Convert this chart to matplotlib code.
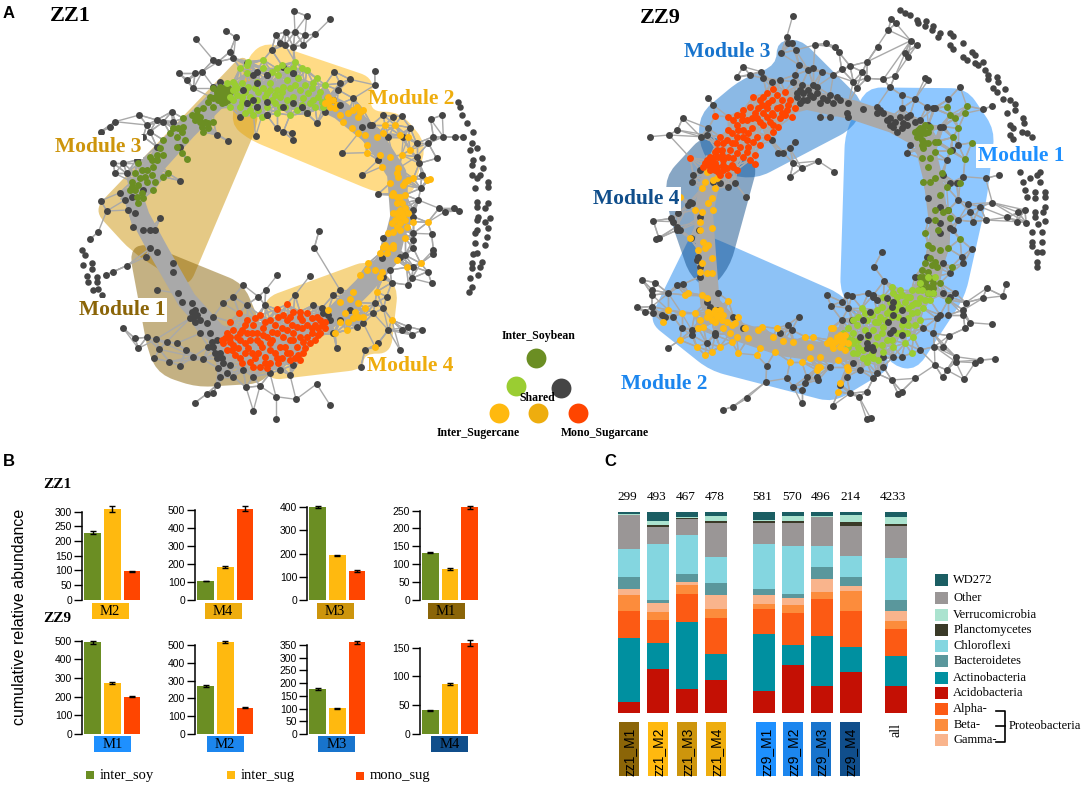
import numpy as np
import matplotlib
matplotlib.use("Agg")
import matplotlib.pyplot as plt
from matplotlib.collections import LineCollection
from matplotlib.patches import PathPatch, Rectangle
from matplotlib.path import Path

plt.rcParams['font.family'] = ['Liberation Serif', 'DejaVu Serif']

W, H = 1084, 787

GRAY = '#454545'
SOY = '#6B8E23'
LIME = '#9ACD32'
SUG = '#FFB90F'
SHARED = '#EEAD0E'
RED = '#FF4500'
EDGE = '#A9A9A9'

# module colours
M_YEL = ['#8B6508', '#FFB90F', '#CD950C', '#EEAD0E']   # M1..M4 of ZZ1
M_BLU = ['#1E90FF', '#1C86EE', '#1874CD', '#104E8B']   # M1..M4 of ZZ9

# ---- network nodes (3x pixel units) ----
zz1_gray = [(882,33),(920,48),(990,58),(857,95),(885,95),(915,105),(945,103),(827,105),(678,92),(707,112),(588,118),(640,180),(655,185),(690,155),(815,150),(840,130),(855,135),(880,140),(910,135),(1124,213),(1125,255),(1003,215),(1050,238),(1020,250),(537,220),(562,240),(585,220),(607,215),(580,265),(1327,345),(1292,358),(1230,383),(1300,410),(1330,410),(1365,412),(1390,410),(1285,430),(1250,430),(1310,475),(1258,490),(1265,525),(1262,565),(1240,630),(1317,625),(1362,625),(1378,633),(1335,635),(1295,702),(1240,720),(1240,745),(1300,750),(1300,762),(1283,815),(1240,800),(1295,850),(1225,855),(1235,835),(1175,848),(1160,890),(1150,925),(1265,990),(1225,980),(1205,990),(1235,1005),(1165,990),(1135,1030),(1200,1050),(1082,1102),(1095,1050),(1010,1045),(990,1215),(950,1152),(888,1198),(828,1190),(828,1258),(760,1232),(780,1158),(738,1162),(640,1180),(620,1182),(585,1208),(650,1155),(540,1097),(508,1085),(463,1075),(415,1045),(405,1015),(370,985),(440,1012),(468,1018),(500,1025),(530,1030),(478,1048),(558,1050),(580,1070),(610,1078),(470,870),(520,790),(437,770),(380,797),(340,815),(318,825),(270,718),(295,695),(320,633),(303,602),(360,578),(340,490),(345,365),(330,382),(302,395),(418,345),(440,375),(470,360),(957,693),(943,743),(930,827),(885,885),(832,825),(797,870),(730,855),(1027,460),(1087,525),(1133,583),(952,370),(880,420),(767,408),(683,422),(650,405),(540,542),(480,655),
    (380,520),(395,590),(385,630),(400,680),(430,690),(450,690),(465,690),(450,745),(470,755),(520,815),(535,880),(545,905),(575,910),(585,930),(610,930),(580,955),(620,970),(640,950),(600,1000),(650,1020),(640,1040),(660,1060),(670,1090),(655,1105),(690,1095),(700,1130),(660,1130),(730,1110),(760,1130),(810,1120),(870,1125),(840,1110),(880,1095),(700,890),(670,910),(740,915),(775,890),(795,915),(940,915),(970,940),(990,960),(1000,1000),(1020,960),(1050,930),(1070,980),(1090,970),(1120,940),(1125,910),(1020,870),(1000,885),(1150,830),(1170,810),(1200,770),(1215,765),(1240,700),(1145,775),(1150,715),(1240,650),(1255,600),
    (640,260),(660,245),(700,175),(740,190),(770,215),(800,225),(850,200),(880,220),(720,350),(740,310),(770,320),(800,345),(830,385),(850,395),(875,400),(905,320),(920,340),(975,335),(1000,300),(1015,270),(1060,295),(1085,380),(1115,375),(1150,345),(1180,350),(1205,348),(1135,480),(1165,410),(1210,410),(1250,470),
    (515,335),(490,365),(450,395),(430,410),(470,440),(520,365),(540,440),(430,570),(410,480),(370,490),(345,520),(375,600),(405,640),(570,955),(585,965),(630,1000),(635,1025),(650,1075),(680,1120),(575,935),(590,945),(600,960),(625,1040),(645,1060),(665,1075),(965,925),(985,945)]
zz1_over = [(770,320),(740,310),(800,345),(905,320),(920,340),(760,225),(800,225),(880,220),(850,320),(770,250),(800,305),(760,300),(880,310),(730,270),(1020,315),(1110,375)]
zz1_soy = [(640,265),(655,270),(670,280),(680,290),(665,295),(650,285),(690,275),(675,305),(640,295),(625,305),(640,320),(610,325),(590,330),(575,345),(585,360),(600,350),(615,365),(625,385),(610,395),(640,365),(550,355),(520,385),(550,380),(510,400),(530,410),(555,420),(490,420),(480,445),(530,440),(545,458),(470,465),(490,465),(450,470),(415,490),(440,510),(460,500),(505,520),(490,530),(465,545),(435,530),(405,520),(395,545),(415,555),(390,570),(410,590),(430,595),(415,610),(460,570),(455,480),(560,478),(660,280),(680,275),
    (660,260),(650,275),(670,265),(685,265),(665,310),(685,300),(655,300),(630,290),(600,365),(590,345),(605,380),(625,370),(545,395),(535,385),(470,480),(425,510),(420,535),(395,560),(405,570),(425,580),(440,545),(455,525)]
zz1_lime = [(720,205),(745,185),(790,180),(830,205),(860,210),(885,185),(920,210),(700,245),(680,250),(710,265),(725,290),(700,300),(690,320),(740,220),(770,245),(790,265),(810,270),(830,270),(850,260),(835,225),(860,240),(895,235),(940,250),(975,255),(960,275),(925,280),(900,270),(880,290),(860,300),(840,290),(815,300),(795,290),(770,300),(750,310),(735,340),(760,345),(785,350),(870,345),(830,340),(910,295),(945,320),(980,295),(970,320),(920,340),(745,260),(765,265),(720,320),(840,320),(890,330),(810,250),(940,300),
    (705,255),(725,250),(735,275),(750,290),(775,275),(800,280),(825,285),(845,275),(870,265),(885,255),(915,255),(935,265),(955,290),(930,310),(905,315),(880,310),(855,320),(825,310),(800,320),(775,330),(750,330),(725,305),(710,285),(740,195),(790,205),(815,215),(845,195),(880,205),(905,205),(950,235),(965,305),(700,270),(690,290)]
zz1_sug = [(985,290),(1000,300),(990,320),(1010,315),(975,310),(1020,345),(1030,365),(1045,340),(1070,320),(1090,330),(1075,350),(1055,385),(1075,400),(1095,405),(1100,435),(1130,410),(1155,375),(1150,400),(1185,375),(1200,405),(1225,410),(1100,458),(1140,465),(1170,470),(1205,465),(1145,500),(1195,505),(1230,450),(1195,530),(1225,540),(1240,535),(1170,550),(1210,555),(1290,538),(1280,540),(1175,585),(1200,590),(1215,585),(1205,610),(1215,625),(1190,640),(1210,650),(1225,640),(1185,660),(1200,670),(1220,680),(1180,695),(1200,690),(1240,665),(1283,667),(1165,700),(1215,715),(1150,740),(1165,745),(1140,760),(1180,745),(1160,760),(1190,780),(1105,790),(1100,810),(1125,810),(1080,825),(1140,830),(1145,815),(1220,802),(1262,790),
    (1130,875),(1060,875),(1075,908),(1050,898),(1020,905),(985,930),(1035,938),(1065,935),(1075,950),(1095,925),(1175,960),(1020,965),(1045,965),(1040,990),(1005,1000),(1125,1040),(1090,950),(1060,955),
    (1190,610),(1200,630),(1195,650),(1215,660),(1180,640),(1205,640),(1175,670),(1190,680),(990,300),(1005,325),(985,305),(1060,330),(1080,335),(1190,520),(1215,545),(1180,580),(1190,590),(1155,735),(1180,735)]
zz1_red = [(860,913),(830,928),(718,940),(690,965),(740,960),(780,945),(810,960),(850,945),(880,935),(920,940),(950,950),(975,965),(975,985),(955,1005),(930,1030),(910,1060),(900,1080),(870,1060),(845,1075),(810,1090),(780,1100),(750,1085),(720,1075),(695,1050),(670,1030),(680,1000),(710,1010),(740,1000),(770,1020),(800,1010),(830,1000),(860,990),(890,980),(920,975),(900,1010),(870,1020),(840,1040),(810,1050),(775,1060),(745,1045),(715,1045),(760,975),(790,985),(825,975),(860,960),(900,950),(935,1000),(700,990),(735,1030),(785,1040),(890,1040),(920,1010),(665,1020),(690,1025),(755,1060),(830,1075),(880,1000),(945,975),(960,960),(770,1000),(810,1030),(905,960),(855,1040),(795,1070),(720,1020),(945,1020),
    (735,975),(765,955),(795,965),(835,950),(870,950),(900,935),(935,955),(965,975),(725,990),(755,1000),(790,1005),(815,995),(845,985),(875,975),(905,985),(935,985),(960,1000),(690,1010),(720,1000),(750,1020),(780,1030),(815,1020),(850,1010),(880,1020),(910,1025),(680,1050),(705,1065),(735,1060),(765,1075),(795,1090),(825,1060),(860,1060),(885,1075),(915,1045),(700,1035),(725,1090),(760,1100),(800,1105),(835,1090),(870,1080),(895,1065),(675,1015),(955,985)]
zz1_lone = [(1375,305),(1380,320),(1385,345),(1400,368),(1420,395),(1415,430),(1430,445),(1410,450),(1445,475),(1420,480),(1415,495),(1450,505),(1440,525),(1415,525),(1430,535),(1465,545),(1465,560),(1425,565),(1430,605),(1430,620),(1465,610),(1455,625),(1435,650),(1430,660),(1470,655),(1455,665),(1430,690),(1425,700),(1465,685),(1460,710),(1425,730),(1430,760),(1420,762),(1455,735),(1445,785),(1440,800),(1415,790),(1415,805),(1435,825),(1410,835),(1415,860),(1408,875),
    (245,750),(255,765),(250,795),(275,790),(275,808),(262,828),(265,845),(290,830),(290,845),(280,870),(295,868),(305,885)]
zz1_ring = [(400,590),(470,490),(560,390),(650,300),(760,270),(900,270),(1020,330),(1120,410),(1190,520),(1200,650),(1170,770),(1090,860),(1000,950),(900,1000),(760,1040),(650,1000),(560,900),(480,760),(420,650),(400,590)]

zz9_gray = [(578,48),(560,112),(565,130),(575,130),(587,150),(543,160),(645,135),(678,130),(706,140),(717,157),(833,140),(865,90),(873,58),(888,70),(802,185),(787,215),(885,228),(932,122),(950,135),(915,160),(925,170),(975,235),(985,240),(1080,260),(1045,298),(1150,328),(1175,318),(1197,525),(1157,535),(1177,608),(1140,620),(1105,612),(1110,635),(1158,660),(1222,652),(1255,637),(1275,630),(1250,665),(1278,668),(1118,665),(1115,747),(1085,770),(1090,530),(1070,550),(1075,435),(1075,660),(1050,685),
    (1218,853),(1160,865),(1065,878),(1208,888),(1148,895),(1097,908),(1090,930),(1090,945),(1045,945),(1110,968),(1177,973),(1095,985),(1047,1007),(1185,1077),(1140,1080),(1125,1088),(1067,1070),(1067,1085),(1030,1042),(1003,1040),(1040,1110),(1092,1138),(1028,1132),(945,1135),(960,1050),(1005,1095),
    (905,1175),(895,1183),(875,1140),(800,1175),(800,1258),(812,1255),(777,1190),(750,1180),(698,1217),(605,1210),(498,1145),(500,1097),(440,1195),(398,1220),(368,1230),(560,1135),(605,1170),(580,1160),(620,1130),(597,950),(540,1000),(575,990),(563,975),
    (203,1045),(245,985),(275,990),(275,1005),(345,1005),(320,1030),(110,922),(135,937),(155,920),(158,940),(185,945),(205,880),(157,870),(157,885),(127,840),(165,848),(230,855),(250,852),(195,950),(220,950),
    (845,757),(822,800),(853,842),(680,885),(693,917),(725,905),(740,885),(755,888),(805,880),(820,885),
    (177,715),(168,718),(160,663),(240,690),(230,680),(272,713),(298,690),(213,655),(275,610),(265,615),(218,665),(232,690),
    (150,410),(207,405),(232,390),(248,355),(325,295),(340,315),(302,410),(320,405),(325,385),(275,545),(280,525),(300,510),(340,545),(360,550),(385,560),(405,548),(437,590),
    (703,515),(655,483),(570,530),(580,490),(605,505),(535,458),(550,458),(570,445),(585,425),(515,420),
    (410,232),(450,225),(483,215),(490,235),(515,245),(540,240),(430,200),(578,245),(585,225),(597,195),(625,210),(640,205),(665,215),(700,225),(725,208),(750,198),(760,245),(770,265),(800,235),(850,238),(870,262),(905,285),(945,298),(1005,325),
    (590,290),(610,280),(625,270),(640,255),(605,255),(650,280),(620,300),(600,310),(660,310),(690,285),(700,310),(720,300),(745,310),(790,327),(740,340),(745,350),(690,350),(660,350),(830,320),(850,340),(870,355),(830,340),(880,380),(890,395),(910,370),(930,345),(960,360),(985,375),(905,325),(920,350),(1020,380),(1000,325),(980,320),(1030,380),(920,460),(930,435),(1040,480),(1055,450),
    (590,280),(600,270),(630,285),(640,290),(680,300),(710,290),(610,300),(650,260),(670,295),(870,375),(885,365),(905,385),(920,375),(945,365),(900,350),(860,360),(840,330),
    (1030,525),(1050,550),(985,595),(1020,620),(1045,630),(1075,600),(1020,670),(1060,690),(985,660),(1020,700),(980,770),(1030,790),(1090,790),(1050,820),(945,830),(1030,880),(1050,890),(1020,945),(1010,955),(970,985),(1000,1000),
    (850,1070),(880,1070),(905,1070),(850,1100),(830,1120),(820,1135),(780,1110),(760,1090),(740,1130),(720,1155),(690,1100),(650,1130),(655,1140),(615,1150),(755,960),(725,960),(745,925),
    (320,905),(330,920),(350,930),(300,830),(295,770),(300,800),(290,780),(345,1000),(355,880),(400,950),(430,985),(300,650),(270,605),(235,640)]
zz9_over = [(880,905),(905,930),(820,890),(830,900),(860,895),(790,960),(810,935),(780,1010),(800,1030),(820,1050),(880,990),(905,1005),(865,965),(910,960),(800,1045),(815,1040),(880,945),(870,1000),(805,1005),(875,920)]
zz9_sug = [(340,540),(350,535),(320,515),(315,545),(305,565),(345,565),(335,595),(325,610),(285,630),(305,635),(340,630),(300,665),(335,685),(300,690),(270,715),(310,725),(325,735),(315,745),(295,750),(335,775),(305,790),(320,820),(335,820),(300,815),(240,592),
    (265,878),(255,885),(305,885),(320,895),(385,902),(205,930),(245,940),(285,940),(190,965),(300,960),(295,985),(310,980),(325,935),(340,940),(350,950),(360,930),(370,945),(345,965),(380,965),(405,970),(415,950),(395,975),(435,985),(370,985),(390,1000),(395,1025),(410,1010),(240,1020),(290,1040),(335,1055),(315,1065),(360,1040),(415,1060),(445,1015),(470,1065),(480,1045),(487,980),(475,990),(530,985),(520,1010),(550,1022),(580,1025),(615,1010),(640,1012),(525,1055),(630,1040),(605,1085),(630,1075),(660,1070),(570,1085),(660,1100),(650,1110),(720,1150),(715,1175),
    (690,1020),(710,1010),(730,1020),(745,1030),(720,1040),(700,1045),(680,1030),(735,1050),(720,1005),(700,985),(692,985),(740,1100),(745,1110),(715,1080),(655,1100),
    (330,945),(345,930),(355,945),(335,960),(365,960),(320,950),(705,1025),(725,1030),(715,1020),(695,1035),(735,1005)]
zz9_lime = [(875,860),(900,870),(935,870),(960,895),(970,925),(850,890),(830,930),(785,925),(760,960),(800,960),(840,950),(870,930),(890,890),(920,890),(945,910),(900,920),(935,940),(960,960),(920,1000),(940,1010),(880,1040),(860,1020),(830,1010),(850,980),(820,990),(795,990),(760,1000),(730,1000),(745,1040),(770,1060),(800,1085),(835,1080),(815,1060),(935,1060),(960,850),(1000,880),(985,830),(1005,830),(975,900),(905,975),(875,950),(825,965),(770,975),(745,985),(760,1030),(790,1050),(915,1030),(890,1000),(955,870),(850,1055),
    (880,880),(905,885),(930,890),(955,910),(915,905),(890,910),(870,905),(935,915),(950,935),(925,925),(845,920),(860,940),(815,945),(835,965),(855,960),(885,930),(895,950),(925,955),(945,975),(925,975),(905,995),(875,1020),(845,1000),(845,1035),(825,1035),(805,1010),(775,1020),(755,1020),(740,1010),(725,1030),(775,1040),(805,1070),(790,1075),(760,1060),(820,1075),(795,940),(775,950),(965,870),(985,880),(990,900)]
zz9_soy = [(945,395),(960,385),(975,375),(990,380),(950,410),(975,400),(965,420),(985,430),(1005,425),(1015,425),(970,445),(1005,455),(1040,320),(1100,318),(1050,345),(1065,355),(1095,340),(1075,385),(1058,412),(1115,428),(1095,478),(1050,452),(965,475),(990,475),(985,500),(1025,520),(1005,535),(970,545),(990,545),(1040,560),(1080,550),(1020,585),(1005,630),(1030,635),(1045,630),(1050,655),(1005,660),(1015,690),(975,700),(1080,717),(985,735),(995,745),(1020,750),(1045,745),(990,775),(1005,785),(965,810),(1055,800),(960,850),(985,860),(1000,850),(1020,850),(1000,880),(1045,900),(970,830),(1010,800),
    (955,390),(970,390),(985,395),(960,405),(965,435),(975,430),(960,830),(975,845),(990,835),(1000,865),(985,880),(965,865),(975,790),(995,795),(985,815)]
zz9_red = [(520,268),(555,275),(500,280),(460,290),(480,300),(515,300),(545,300),(570,300),(585,325),(450,320),(475,325),(500,325),(530,325),(560,330),(575,350),(430,330),(410,345),(385,350),(345,348),(440,360),(470,355),(500,350),(540,355),(520,375),(490,375),(410,375),(430,390),(455,385),(385,390),(360,410),(350,430),(380,420),(410,410),(440,420),(470,410),(500,410),(520,395),(365,450),(345,455),(390,450),(420,440),(445,440),(480,435),(270,473),(320,480),(340,475),(370,480),(400,475),(430,470),(465,465),(310,500),(330,510),(350,500),(380,505),(410,510),(360,525),(385,525),(465,492),(450,480),(335,490),(355,515),(535,380),(555,345),(520,345),(395,430),(425,360),
    (490,290),(530,285),(505,310),(540,320),(565,315),(485,315),(465,340),(490,340),(515,340),(545,340),(455,355),(480,365),(510,365),(425,345),(400,360),(415,390),(445,400),(395,400),(370,430),(405,430),(430,410),(460,425),(350,450),(330,470),(325,495),(345,490),(365,465),(385,470),(410,460),(440,455),(315,490),(370,495),(395,495),(345,510),(370,510),(400,500),(335,500),(355,470)]
zz9_lone = [(900,30),(915,38),(930,45),(950,60),(955,70),(978,62),(975,78),(1000,78),(995,90),(1020,100),(1015,112),(1050,100),(1060,108),(1090,130),(1050,135),(1060,148),(1115,155),(1125,165),(1090,170),(1100,180),(1150,185),(1135,195),(1125,190),(1155,210),(1165,225),(1165,238),(1190,232),(1195,245),(1180,265),(1190,275),(1215,268),(1210,298),(1230,300),(1245,312),(1245,330),(1220,340),(1270,355),(1272,370),(1230,375),(1240,385),(1265,395),(1280,400),(1295,410),(1230,405),(1240,418),
    (1260,515),(1320,515),(1310,525),(1290,535),(1268,545),(1320,545),(1275,570),(1280,590),(1305,575),(1335,575),(1335,590),(1305,595),(1335,620),(1330,635),(1305,635),(1305,650),(1335,662),(1315,672),(1295,695),(1325,695),(1295,725),(1295,738),(1325,725),(1310,755),(1325,755),(1310,785),(1310,800)]
zz9_ring = [(340,500),(420,400),(500,330),(620,300),(760,330),(880,370),(970,420),(1000,540),(1020,700),(990,850),(900,960),(800,1040),(700,1060),(550,1040),(400,990),(330,910),(320,780),(310,640),(340,500)]

# hull outlines of the modules, same units
zz1_hulls = [
    ('M2', [(745,165),(800,125),(1125,235),(1105,335),(1200,335),(1280,430),(1235,595),(1130,578),(745,418),(690,370)], M_YEL[1]),
    ('M3', [(735,155),(280,630),(395,755),(565,865),(775,370),(770,250)], M_YEL[2]),
    ('M1', [(388,755),(430,728),(730,850),(830,1085),(790,1150),(590,1162),(480,1125),(445,1060)], M_YEL[0]),
    ('M4', [(1110,778),(1195,860),(1172,1062),(1092,1060),(1090,1108),(800,1142),(790,895)], M_YEL[3]),
]
zz9_hulls = [
    ('M1', [(800,262),(1100,265),(1185,390),(1160,600),(1095,890),(950,1110),(880,1100),(720,880),(735,400)], M_BLU[0]),
    ('M2', [(360,722),(730,885),(880,1100),(700,1208),(330,1112),(145,965),(280,690)], M_BLU[1]),
    ('M3', [(600,115),(795,310),(760,385),(470,537),(345,520),(295,430),(300,340),(420,240),(530,195),(530,125)], M_BLU[2]),
    ('M4', [(310,405),(195,530),(205,640),(270,830),(330,870),(390,800),(475,490),(370,420)], M_BLU[3]),
]

# ---- panel B ----
bar_colors = ['#6B8E23', '#FFB90F', '#FF4500']
zz1_mods = ['M2', 'M4', 'M3', 'M1']
zz1_vals = [[228, 310, 97], [105, 183, 510], [401, 192, 124], [132, 85, 259]]
zz1_errs = [[5, 10, 2], [2, 3, 12], [4, 3, 3], [2, 3, 3]]
zz1_ticks = [[0, 50, 100, 150, 200, 250, 300], [0, 100, 200, 300, 400, 500], [0, 100, 200, 300, 400], [0, 50, 100, 150, 200, 250]]
zz9_mods = ['M1', 'M2', 'M3', 'M4']
zz9_vals = [[492, 272, 200], [268, 517, 147], [176, 101, 360], [41, 87, 158]]
zz9_errs = [[8, 5, 3], [5, 8, 3], [3, 2, 7], [1.5, 1.5, 5]]
zz9_ticks = [[0, 100, 200, 300, 400, 500], [0, 100, 200, 300, 400, 500], [0, 50, 100, 150, 200, 250, 300, 350], [0, 50, 100, 150]]

# ---- panel C ----
taxa = ['Acidobacteria', 'Actinobacteria', 'Alpha-', 'Beta-', 'Gamma-', 'Bacteroidetes', 'Chloroflexi', 'Other', 'Planctomycetes', 'Verrucomicrobia', 'WD272']
taxa_colors = ['#C41004', '#0090A0', '#FC5A14', '#FC8C3C', '#F9B48C', '#5A979C', '#84D6E0', '#9A9696', '#3A3A28', '#ABE3CF', '#1B5E63']
stack_counts = ['299', '493', '467', '478', '581', '570', '496', '214', '4233']
stack_names = ['zz1_M1', 'zz1_M2', 'zz1_M3', 'zz1_M4', 'zz9_M1', 'zz9_M2', 'zz9_M3', 'zz9_M4', 'all']
stack_vals = [
    [35, 191, 82, 46, 18, 37, 84, 101, 2, 3, 5],
    [134, 76, 69, 25, 26, 11, 166, 52, 7, 10, 28],
    [73, 202, 83, 27, 10, 24, 116, 48, 3, 3, 15],
    [100, 79, 108, 26, 41, 37, 77, 104, 6, 13, 13],
    [67, 171, 74, 17, 25, 19, 134, 64, 7, 2, 24],
    [144, 60, 96, 24, 22, 11, 146, 69, 5, 15, 12],
    [82, 150, 112, 21, 39, 36, 63, 85, 2, 2, 12],
    [125, 75, 107, 61, 14, 26, 65, 89, 12, 22, 8],
    [82, 89, 81, 24, 31, 34, 126, 94, 7, 22, 14],
]


def rounded_hull(pts, r=45):
    # polygon with its corners cut by quadratic curves
    pts = np.array(pts, float)
    n = len(pts)
    verts, codes = [], []
    for i in range(n):
        p, c, q = pts[i - 1], pts[i], pts[(i + 1) % n]
        r1 = min(r, np.linalg.norm(p - c) / 2)
        r2 = min(r, np.linalg.norm(q - c) / 2)
        a = c + (p - c) / np.linalg.norm(p - c) * r1
        b = c + (q - c) / np.linalg.norm(q - c) * r2
        verts += [a, c, b]
        codes += [Path.MOVETO if i == 0 else Path.LINETO, Path.CURVE3, Path.CURVE3]
    verts.append(verts[0])
    codes.append(Path.CLOSEPOLY)
    return Path(verts, codes)


def make_edges(xy, radius=55, reach=170):
    # close pairs are linked, the rest hang off nearby denser nodes
    d = np.sqrt(((xy[:, None, :] - xy[None, :, :]) ** 2).sum(axis=2))
    np.fill_diagonal(d, 1e9)
    density = (d < 80).sum(axis=1)
    segs = []
    for i in range(len(xy)):
        near = set(np.where(d[i] < radius)[0])
        denser = np.where((density > density[i]) & (d[i] < reach))[0]
        if len(denser):
            near |= set(denser[np.argsort(d[i][denser])[:1 if density[i] < 3 else 2]])
        else:
            near.add(int(np.argmin(d[i])))
        for j in near:
            segs.append([xy[i], xy[j]])
    return segs


def draw_network(ax, x0, hulls, ring, groups, over, lone):
    to_px = lambda pts: np.array(pts, float) / 3 + [x0, 0]
    for name, outline, col in hulls:
        p = rounded_hull(outline)
        p = Path(p.vertices / 3 + [x0, 0], p.codes)
        ax.add_patch(PathPatch(p, fc=col, ec='none', alpha=0.5, zorder=1))
    r = to_px(ring)
    ax.plot(r[:, 0], r[:, 1], color=EDGE, lw=14, zorder=2, solid_joinstyle='round')
    all_nodes = np.vstack([np.array(g, float) for g, c in groups])
    segs = [np.array(s) / 3 + [x0, 0] for s in make_edges(all_nodes)]
    ax.add_collection(LineCollection(segs, colors=EDGE, linewidths=1.0, zorder=2))
    ln = to_px(lone)
    ax.scatter(ln[:, 0], ln[:, 1], s=22, c=GRAY, lw=0, zorder=3)
    for g, c in groups:
        xy = to_px(g)
        ax.scatter(xy[:, 0], xy[:, 1], s=25, c=c, lw=0, zorder=3)
    xy = to_px(over)
    ax.scatter(xy[:, 0], xy[:, 1], s=25, c=GRAY, lw=0, zorder=3)


def px_axes(fig, left, top, right, bottom):
    return fig.add_axes([left / W, 1 - bottom / H, (right - left) / W, (bottom - top) / H])


fig = plt.figure(figsize=(W / 100, H / 100), dpi=100)
bg = fig.add_axes([0, 0, 1, 1])
bg.set_xlim(0, W)
bg.set_ylim(H, 0)
bg.axis('off')

# ---- panel A ----
draw_network(bg, 0, zz1_hulls, zz1_ring, [(zz1_gray, GRAY), (zz1_soy, SOY), (zz1_lime, LIME), (zz1_sug, SUG), (zz1_red, RED)], zz1_over, zz1_lone)
draw_network(bg, 600, zz9_hulls, zz9_ring, [(zz9_gray, GRAY), (zz9_soy, SOY), (zz9_lime, LIME), (zz9_sug, SUG), (zz9_red, RED)], zz9_over, zz9_lone)

sans = ['Liberation Sans', 'DejaVu Sans']
bg.text(9, 13, 'A', family=sans, fontsize=12, fontweight='bold', ha='center', va='center')
bg.text(9, 461, 'B', family=sans, fontsize=12, fontweight='bold', ha='center', va='center')
bg.text(610, 461, 'C', family=sans, fontsize=12, fontweight='bold', ha='center', va='center')
bg.text(70, 16, 'ZZ1', fontsize=16, fontweight='bold', ha='center', va='center')
bg.text(660, 18, 'ZZ9', fontsize=16, fontweight='bold', ha='center', va='center')

mod_labels = [
    ('Module 2', 411, 99, M_YEL[3]), ('Module 3', 98, 147, '#CD950C'), ('Module 1', 122, 310, M_YEL[0]), ('Module 4', 410, 366, M_YEL[3]),
    ('Module 3', 727, 52, M_BLU[2]), ('Module 1', 1021, 156, M_BLU[0]), ('Module 4', 636, 199, M_BLU[3]), ('Module 2', 664, 384, M_BLU[1]),
]
for txt, x, y, c in mod_labels:
    bg.text(x, y, txt, color=c, fontsize=15.5, fontweight='bold', ha='center', va='center', zorder=6,
            bbox=dict(fc='white', ec='none', pad=1.5) if x not in (411, 410, 664) else None)

key_nodes = [(536, 358, SOY), (516, 386, LIME), (561, 388, GRAY), (499, 413, SUG), (538, 413, SHARED), (578, 413, RED)]
for x, y, c in key_nodes:
    bg.scatter([x], [y], s=205, c=c, lw=0, zorder=4)
for txt, x, y in [('Inter_Soybean', 539, 336), ('Shared', 537, 398), ('Inter_Sugercane', 478, 433), ('Mono_Sugarcane', 605, 433)]:
    bg.text(x, y, txt, fontsize=8.5, fontweight='bold', ha='center', va='center', zorder=5)

# ---- panel B ----
rows = [
    (599.7, [185, 181, 172, 182], zz1_vals, zz1_errs, zz1_ticks, zz1_mods, [M_YEL[1], M_YEL[3], M_YEL[2], M_YEL[0]], [275, 614, 950, 1283], 458),
    (734.0, [572, 585, 585, 593], zz9_vals, zz9_errs, zz9_ticks, zz9_mods, M_BLU, [282, 620, 954, 1294], 857),
]
lefts = [246, 585, 921, 1259]
for base, tops, vals, errs, ticks, mods, box_cols, box_x, box_y in rows:
    for i in range(4):
        left = lefts[i] / 3
        top = 450 + tops[i] / 3
        span = base - top
        a = px_axes(fig, left, base - span * 1.12, left + 61, base)
        a.patch.set_alpha(0)
        a.bar([0, 1, 2], vals[i], width=0.84, color=bar_colors)
        a.errorbar([0, 1, 2], vals[i], yerr=errs[i], fmt='none', ecolor='black', elinewidth=1, capsize=2.5, capthick=1)
        a.set_xlim(-0.544, 2.556)
        a.set_ylim(0, ticks[i][-1] * 1.12)
        a.set_yticks(ticks[i])
        a.set_xticks([])
        a.tick_params(axis='y', labelsize=7.5, length=5.5, width=1, pad=1.5)
        for lab in a.get_yticklabels():
            lab.set_family(sans)
        for s in ('top', 'right', 'bottom'):
            a.spines[s].set_visible(False)
        a.spines['left'].set_bounds(0, ticks[i][-1])
        a.spines['left'].set_linewidth(1.1)
        bg.add_patch(Rectangle((box_x[i] / 3, 450 + box_y / 3), 37, 16.5, fc=box_cols[i], ec='none', zorder=2))
        bg.text(box_x[i] / 3 + 18.5, 450 + box_y / 3 + 8.5, mods[i], fontsize=10.5, ha='center', va='center', zorder=3)

bg.text(57, 484, 'ZZ1', fontsize=11, fontweight='bold', ha='center', va='center')
bg.text(57, 619, 'ZZ9', fontsize=11, fontweight='bold', ha='center', va='center')
bg.text(20, 617, 'cumulative relative abundance', family=sans, fontsize=11.5, rotation=90, ha='center', va='center')
for x, txt, c, y in [(90, 'inter_soy', bar_colors[0], 775), (231, 'inter_sug', bar_colors[1], 775), (360, 'mono_sug', bar_colors[2], 776)]:
    bg.add_patch(Rectangle((x - 4, y - 4), 8, 8, fc=c, ec='none'))
    bg.text(x + 10, y, txt, fontsize=10.5, ha='left', va='center')

# ---- panel C ----
col_left = [83, 171, 258, 345, 489, 576, 663, 750, 884]
count_x = [113, 200, 287, 375, 518, 605, 692, 780, 909]
name_left = [88, 175, 262, 349, 499, 580, 664, 751]
name_cols = M_YEL[0:1] + M_YEL[1:2] + M_YEL[2:3] + M_YEL[3:4] + M_BLU

c_ax = px_axes(fig, 590 + 83 / 3, 450 + 186 / 3, 590 + 950 / 3, 450 + 790 / 3)
c_ax.set_xlim(83, 950)
c_ax.set_ylim(0, 1)
c_ax.axis('off')
for i, col in enumerate(stack_vals):
    col = np.array(col, float) / sum(col)
    bottom = 0
    for j, v in enumerate(col):
        c_ax.bar(col_left[i], v, bottom=bottom, width=66, align='edge', color=taxa_colors[j])
        bottom += v
    bg.text(590 + count_x[i] / 3, 497, stack_counts[i], fontsize=9.5, ha='center', va='center')

for i in range(8):
    x = 590 + name_left[i] / 3
    y = 450 + 815 / 3
    bg.add_patch(Rectangle((x, y), 20, 54.5, fc=name_cols[i], ec='none', zorder=2))
    bg.text(x + 10, y + 54, stack_names[i], family=sans, fontsize=10, rotation=90, ha='center', va='bottom', zorder=3)
bg.text(590 + 917 / 3, 450 + 840 / 3, stack_names[8], fontsize=10, rotation=90, ha='center', va='center')

# legend top to bottom
legend_y = [389, 444, 495, 541, 589, 634, 684, 730, 778, 826, 870]
legend_order = ['WD272', 'Other', 'Verrucomicrobia', 'Planctomycetes', 'Chloroflexi', 'Bacteroidetes', 'Actinobacteria', 'Acidobacteria', 'Alpha-', 'Beta-', 'Gamma-']
for y, name in zip(legend_y, legend_order):
    c = taxa_colors[taxa.index(name)]
    yy = 450 + y / 3
    bg.add_patch(Rectangle((590 + 1035 / 3, yy - 6), 13, 12, fc=c, ec='none'))
    bg.text(590 + 1090 / 3, yy, name, fontsize=9, ha='left', va='center')
bx = [590 + 1218 / 3, 590 + 1245 / 3, 590 + 1245 / 3, 590 + 1218 / 3]
by = [450 + 782 / 3, 450 + 782 / 3, 450 + 876 / 3, 450 + 876 / 3]
bg.plot(bx, by, color='black', lw=1.2)
bg.plot([bx[0], bx[1]], [450 + 829 / 3] * 2, color='black', lw=1.2)
bg.text(590 + 1257 / 3, 450 + 829 / 3, 'Proteobacteria', fontsize=9, ha='left', va='center')

fig.savefig('out.png', dpi=100)
